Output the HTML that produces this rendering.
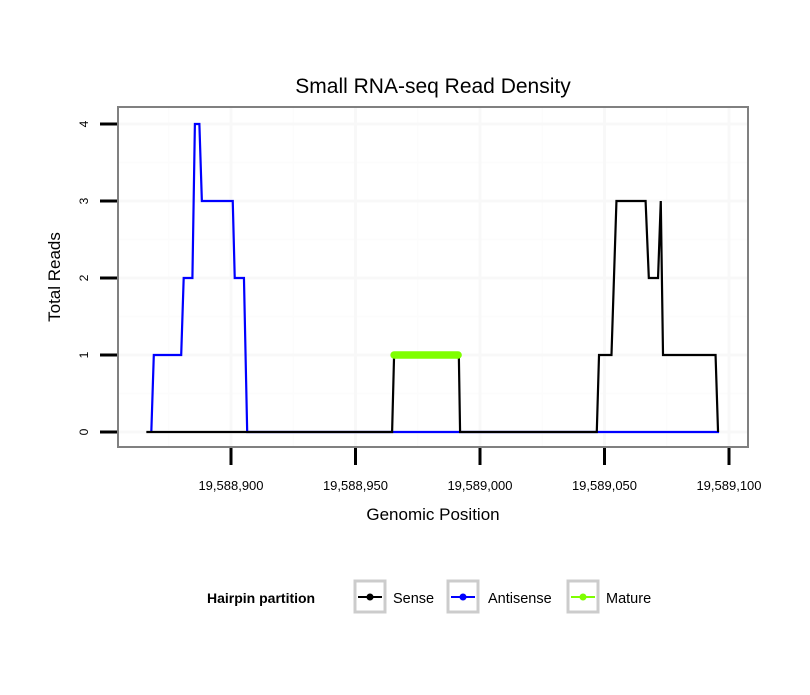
<!DOCTYPE html>
<html><head><meta charset="utf-8"><style>
body{margin:0;background:#fff}
svg text{font-family:"Liberation Sans",sans-serif}
</style></head><body>
<svg width="810" height="690" xmlns="http://www.w3.org/2000/svg">
<text x="433" y="93" font-size="21" text-anchor="middle">Small RNA-seq Read Density</text>
<g id="grid"></g>
<rect x="118" y="107" width="630" height="340" fill="none" stroke="#808080" stroke-width="2"/>
<g id="series"></g>
<g id="axes"></g>
<text x="433" y="520" font-size="17" text-anchor="middle">Genomic Position</text>
<text transform="translate(60,277) rotate(-90)" font-size="17" text-anchor="middle">Total Reads</text>
<g>
<text x="207" y="603" font-size="14" font-weight="bold">Hairpin partition</text>
<g>
<rect x="355" y="581" width="30" height="31" fill="#fff" stroke="#ccc" stroke-width="3"/>
<line x1="358" y1="597" x2="382" y2="597" stroke="#000" stroke-width="2"/><circle cx="370" cy="597" r="3.5" fill="#000"/>
<text x="393" y="603" font-size="14.5">Sense</text></g>
<g>
<rect x="448" y="581" width="30" height="31" fill="#fff" stroke="#ccc" stroke-width="3"/>
<line x1="451" y1="597" x2="475" y2="597" stroke="#0000ff" stroke-width="2"/><circle cx="463" cy="597" r="3.5" fill="#0000ff"/>
<text x="488" y="603" font-size="14.5">Antisense</text></g>
<g>
<rect x="568" y="581" width="30" height="31" fill="#fff" stroke="#ccc" stroke-width="3"/>
<line x1="571" y1="597" x2="595" y2="597" stroke="#7fff00" stroke-width="2"/><circle cx="583" cy="597" r="3.5" fill="#7fff00"/>
<text x="606" y="603" font-size="14.5">Mature</text></g>
</g>
</svg>
<script>
const xTicks=[19588900,19588950,19589000,19589050,19589100];
const xTickLabels=["19,588,900","19,588,950","19,589,000","19,589,050","19,589,100"];
const yTicks=[0,1,2,3,4];
const antisensePos=[19588868,19588869,19588880,19588881,19588884.5,19588885.5,19588887.3,19588888.3,19588900.7,19588901.5,19588905.2,19588906.5,19589096];
const antisenseVal=[0,1,1,2,2,4,4,3,3,2,2,0,0];
const sensePos=[19588866,19588964.7,19588965.5,19588991.5,19588992,19589046.9,19589047.8,19589052.8,19589054.8,19589066.5,19589067.8,19589071.5,19589072.6,19589073.5,19589094.6,19589095.6];
const senseVal=[0,0,1,1,0,0,1,1,3,3,2,2,3,1,1,0];
const maturePos=[19588965.5,19588991.2];
const matureVal=[1,1];
const X=v=>231+(v-19588900)*2.49;
const Y=v=>432-v*77;
const NS="http://www.w3.org/2000/svg";
function mk(parent,tag,attrs){const e=document.createElementNS(NS,tag);for(const k in attrs)e.setAttribute(k,attrs[k]);parent.appendChild(e);return e;}
const grid=document.getElementById('grid'),axes=document.getElementById('axes'),series=document.getElementById('series');
mk(grid,'rect',{x:118,y:107,width:630,height:340,fill:'#fff'});
const step=xTicks[1]-xTicks[0];
for(let i=-1;i<xTicks.length;i++){const m=xTicks[0]+(i+0.5)*step;const px=X(m);if(px>118&&px<748){const l=mk(grid,'line',{x1:px,x2:px,y1:107,y2:447,stroke:'#fcfcfc','stroke-width':1.5});}}
for(let i=-1;i<yTicks.length;i++){const py=Y(yTicks[0]+i+0.5);if(py>107&&py<447){const l=mk(grid,'line',{x1:118,x2:748,y1:py,y2:py,stroke:'#fcfcfc','stroke-width':1.5});}}
xTicks.forEach((t,i)=>{const px=X(t);
const g=mk(grid,'line',{x1:px,x2:px,y1:107,y2:447,stroke:'#f8f8f8','stroke-width':3});
const tk=mk(axes,'line',{x1:px,x2:px,y1:448,y2:465,stroke:'#000','stroke-width':3});
const tx=mk(axes,'text',{x:px,y:490,'font-size':13,'text-anchor':'middle'});tx.textContent=xTickLabels[i];});
yTicks.forEach(t=>{const py=Y(t);
const g=mk(grid,'line',{x1:118,x2:748,y1:py,y2:py,stroke:'#f8f8f8','stroke-width':3});
const tk=mk(axes,'line',{x1:100,x2:117,y1:py,y2:py,stroke:'#000','stroke-width':3});
const tx=mk(axes,'text',{transform:`translate(88,${py}) rotate(-90)`,'font-size':12,'text-anchor':'middle'});tx.textContent=t;});
function line(pos,val,color,w,name,cap){const pts=pos.map((p,i)=>X(p)+','+Y(val[i])).join(' ');const l=mk(series,'polyline',{points:pts,fill:'none',stroke:color,'stroke-width':w,'stroke-linejoin':'miter','stroke-linecap':cap||'butt'});}
line(antisensePos,antisenseVal,'#0000ff',2.2,'antisense-line');
line(sensePos,senseVal,'#000',2.2,'sense-line');
line(maturePos,matureVal,'#7fff00',7.5,'mature-line','round');
</script>
</body></html>
